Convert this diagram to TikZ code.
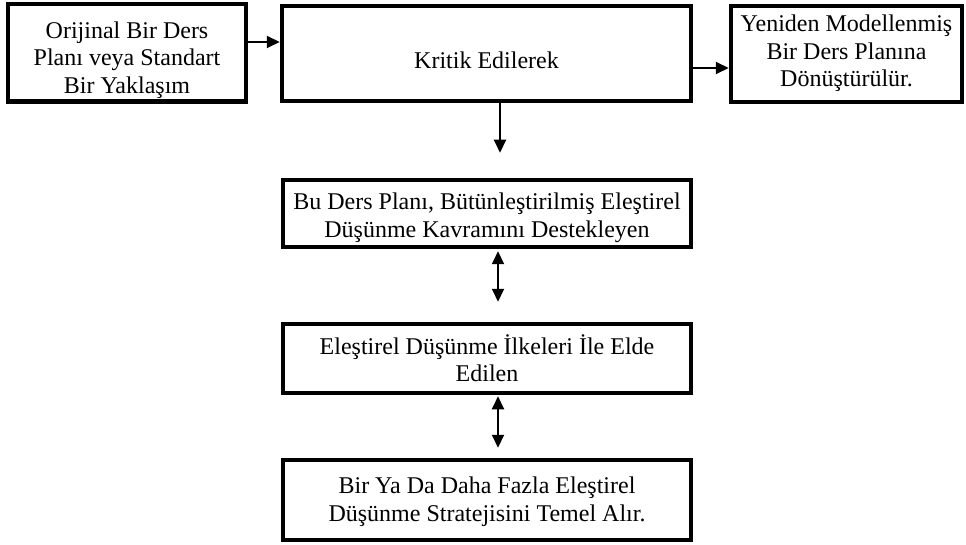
\documentclass[tikz,border=0pt]{standalone}
\usepackage{fontspec}
\setmainfont{Liberation Serif}
\usetikzlibrary{arrows.meta}
\newcommand\lowtext[2]{\raisebox{0pt}[\dimexpr\height+#1\relax][\depth]{\begin{tabular}{@{}c@{}}#2\end{tabular}}}
\begin{document}
\begin{tikzpicture}[x=1pt,y=-1pt,
  box/.style={draw=black, line width=4.5pt, fill=white, align=center, inner sep=0pt,
    font=\fontsize{24}{27.5}\selectfont},
  conn/.style={line width=2pt, -{Triangle[length=13pt,width=12pt]}},
  dconn/.style={line width=2pt, {Triangle[length=13pt,width=12pt]}-{Triangle[length=13pt,width=12pt]}}]
\useasboundingbox[fill=white] (0,0) rectangle (966,545);
\node[box, minimum width=238pt, minimum height=94pt] (b1) at (127,53)
  {\lowtext{15pt}{Orijinal Bir Ders\\Planı veya Standart\\Bir Yaklaşım}};
\node[box, minimum width=409pt, minimum height=95pt] (b2) at (486.5,53.5)
  {\lowtext{20pt}{Kritik Edilerek}};
\node[box, minimum width=231pt, minimum height=96pt] (b3) at (846.5,54)
  {\lowtext{0pt}{Yeniden Modellenmiş\\Bir Ders Planına\\Dönüştürülür.}};
\node[box, minimum width=408pt, minimum height=67pt] (b4) at (487,213.5)
  {\lowtext{9pt}{Bu Ders Planı, Bütünleştirilmiş Eleştirel\\Düşünme Kavramını Destekleyen}};
\node[box, minimum width=408pt, minimum height=69pt] (b5) at (487,358.5)
  {\lowtext{7pt}{Eleştirel Düşünme İlkeleri İle Elde\\Edilen}};
\node[box, minimum width=408pt, minimum height=80pt] (b6) at (487,500)
  {\lowtext{4pt}{Bir Ya Da Daha Fazla Eleştirel\\Düşünme Stratejisini Temel Alır.}};
\draw[conn] ([yshift=11pt]b1.east) -- ([yshift=11.5pt]b2.west);
\draw[conn] ([yshift=-14.5pt]b2.east) -- ([yshift=-14pt]b3.west);
\draw[conn] ([xshift=13.5pt]b2.south) -- ([xshift=13pt,yshift=25pt]b4.north);
\draw[dconn] ([xshift=11pt,yshift=-2pt]b4.south) -- ([xshift=11pt,yshift=20pt]b5.north);
\draw[dconn] ([xshift=11pt,yshift=-1pt]b5.south) -- ([xshift=11pt,yshift=10pt]b6.north);
\end{tikzpicture}
\end{document}
